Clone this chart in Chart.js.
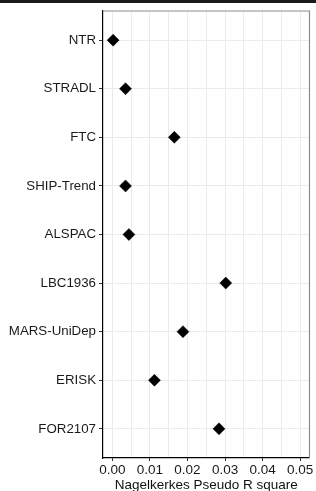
<!DOCTYPE html>
<html>
<head>
<meta charset="utf-8">
<script src="https://cdn.jsdelivr.net/npm/chart.js@4.4.1/dist/chart.umd.min.js"></script>
<style>
  html, body { margin: 0; padding: 0; background: #fff; }
  #wrap { position: relative; width: 316px; height: 491px; }
  #topbar { position: absolute; left: 0; top: 0; width: 316px; height: 3px; background: #1a1a1a; }
</style>
</head>
<body>
<div id="wrap">
  <canvas id="chart-r2" width="316" height="491"></canvas>
  <div id="topbar"></div>
</div>
<script>
// cohorts, top to bottom
const cohorts = ['NTR', 'STRADL', 'FTC', 'SHIP-Trend', 'ALSPAC', 'LBC1936', 'MARS-UniDep', 'ERISK', 'FOR2107'];
// Nagelkerkes pseudo R square per cohort
const r2Values = [0.0002, 0.0035, 0.0165, 0.0035, 0.0044, 0.0302, 0.0188, 0.0112, 0.0284];
// x grid: majors every 0.01, minors between
const xTicks = [0, 0.005, 0.01, 0.015, 0.02, 0.025, 0.03, 0.035, 0.04, 0.045, 0.05];
const xMajorTicks = [0, 0.01, 0.02, 0.03, 0.04, 0.05];

const isMajor = v => xMajorTicks.some(m => Math.abs(m - v) < 1e-9);

// grey panel border on top and right (ggplot panel.border look)
const panelBorder = {
  id: 'panelBorder',
  afterDraw(chart) {
    const { ctx, chartArea: a } = chart;
    ctx.save();
    ctx.strokeStyle = '#8c8c8c';
    ctx.lineWidth = 1.2;
    ctx.beginPath();
    ctx.moveTo(a.left, a.top);
    ctx.lineTo(a.right, a.top);
    ctx.lineTo(a.right, a.bottom);
    ctx.stroke();
    ctx.restore();
  }
};

const ctx = document.getElementById('chart-r2').getContext('2d');
new Chart(ctx, {
  type: 'scatter',
  data: {
    datasets: [{
      data: r2Values.map((v, i) => ({ x: v, y: i })),
      pointStyle: 'rectRot',
      pointRadius: 6,
      pointHoverRadius: 6,
      backgroundColor: '#000',
      borderColor: '#000',
      borderWidth: 0.5
    }]
  },
  options: {
    responsive: false,
    animation: false,
    layout: { padding: { top: 8, right: 6, bottom: 0, left: 0 } },
    plugins: { legend: { display: false }, tooltip: { enabled: false } },
    scales: {
      x: {
        type: 'linear',
        min: -0.0025,
        max: 0.0525,
        afterBuildTicks: scale => { scale.ticks = xTicks.map(v => ({ value: v })); },
        afterFit: scale => { scale.height = 33; },
        ticks: {
          autoSkip: false,
          maxRotation: 0,
          padding: 1,
          color: '#1a1a1a',
          font: { family: 'Liberation Sans', size: 13.5 },
          callback: v => isMajor(v) ? v.toFixed(2) : ''
        },
        grid: {
          color: '#ebebeb',
          lineWidth: 1,
          tickLength: 3,
          tickColor: c => (c.tick && isMajor(c.tick.value)) ? '#333' : 'rgba(0,0,0,0)'
        },
        border: { display: true, color: '#000', width: 1.2 },
        title: {
          display: true,
          text: 'Nagelkerkes Pseudo R square',
          color: '#111',
          font: { family: 'Liberation Sans', size: 13.5 },
          padding: { top: 0, bottom: -2 }
        }
      },
      y: {
        type: 'linear',
        reverse: true,
        min: -0.6,
        max: cohorts.length - 1 + 0.6,
        afterBuildTicks: scale => { scale.ticks = cohorts.map((c, i) => ({ value: i })); },
        afterFit: scale => { scale.width = 103; },
        ticks: {
          autoSkip: false,
          padding: 3,
          color: '#1a1a1a',
          font: { family: 'Liberation Sans', size: 13.3 },
          callback: v => cohorts[v]
        },
        grid: { color: '#ebebeb', lineWidth: 1, tickLength: 4, tickColor: '#333' },
        border: { display: true, color: '#000', width: 1.2 }
      }
    }
  },
  plugins: [panelBorder]
});
</script>
</body>
</html>
